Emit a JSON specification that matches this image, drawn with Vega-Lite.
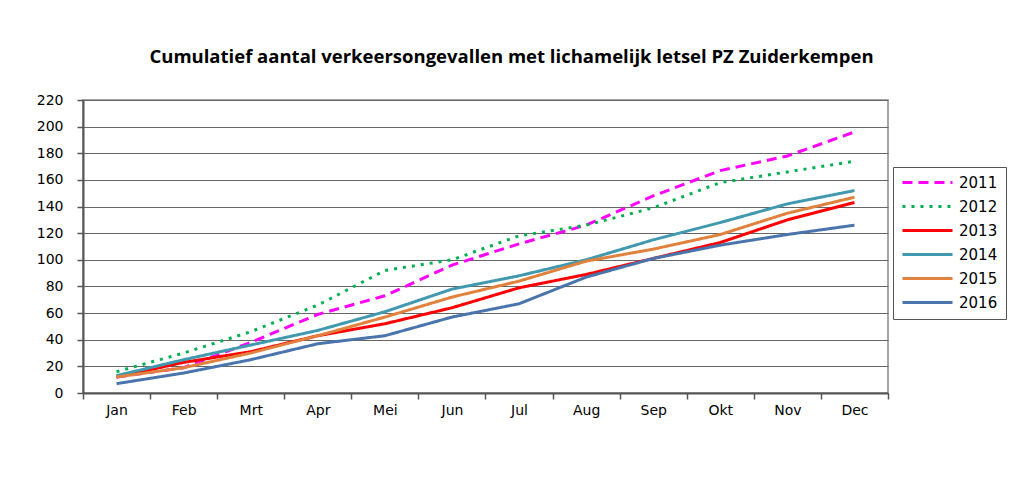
{
  "$schema": "https://vega.github.io/schema/vega-lite/v6.json",
  "width": 805,
  "height": 293,
  "autosize": {"type": "none"},
  "padding": {"left": 83, "top": 100, "right": 139, "bottom": 84},
  "background": "white",
  "title": {
    "text": "Cumulatief aantal verkeersongevallen met lichamelijk letsel PZ Zuiderkempen",
    "font": "Open Sans",
    "fontSize": 18.5,
    "fontWeight": "bold",
    "color": "#000000",
    "anchor": "middle",
    "dx": 26,
    "offset": 27
  },
  "config": {
    "view": {"stroke": "#8a8a8a", "strokeWidth": 1.5},
    "axis": {"labelFont": "DejaVu Sans", "labelFontSize": 14, "labelColor": "#000000", "titleFont": "DejaVu Sans"}
  },
  "data": {
    "values": [
      {"month": "Jan", "year": "2011", "value": 12},
      {"month": "Feb", "year": "2011", "value": 19},
      {"month": "Mrt", "year": "2011", "value": 38},
      {"month": "Apr", "year": "2011", "value": 59},
      {"month": "Mei", "year": "2011", "value": 73},
      {"month": "Jun", "year": "2011", "value": 96},
      {"month": "Jul", "year": "2011", "value": 112},
      {"month": "Aug", "year": "2011", "value": 126},
      {"month": "Sep", "year": "2011", "value": 148},
      {"month": "Okt", "year": "2011", "value": 167},
      {"month": "Nov", "year": "2011", "value": 178},
      {"month": "Dec", "year": "2011", "value": 196},
      {"month": "Jan", "year": "2012", "value": 16},
      {"month": "Feb", "year": "2012", "value": 30},
      {"month": "Mrt", "year": "2012", "value": 46},
      {"month": "Apr", "year": "2012", "value": 66},
      {"month": "Mei", "year": "2012", "value": 92},
      {"month": "Jun", "year": "2012", "value": 100},
      {"month": "Jul", "year": "2012", "value": 118},
      {"month": "Aug", "year": "2012", "value": 126},
      {"month": "Sep", "year": "2012", "value": 139},
      {"month": "Okt", "year": "2012", "value": 158},
      {"month": "Nov", "year": "2012", "value": 166},
      {"month": "Dec", "year": "2012", "value": 174},
      {"month": "Jan", "year": "2013", "value": 12},
      {"month": "Feb", "year": "2013", "value": 23},
      {"month": "Mrt", "year": "2013", "value": 31},
      {"month": "Apr", "year": "2013", "value": 43},
      {"month": "Mei", "year": "2013", "value": 52},
      {"month": "Jun", "year": "2013", "value": 64},
      {"month": "Jul", "year": "2013", "value": 79},
      {"month": "Aug", "year": "2013", "value": 89},
      {"month": "Sep", "year": "2013", "value": 101},
      {"month": "Okt", "year": "2013", "value": 113},
      {"month": "Nov", "year": "2013", "value": 130},
      {"month": "Dec", "year": "2013", "value": 143},
      {"month": "Jan", "year": "2014", "value": 13},
      {"month": "Feb", "year": "2014", "value": 25},
      {"month": "Mrt", "year": "2014", "value": 36},
      {"month": "Apr", "year": "2014", "value": 47},
      {"month": "Mei", "year": "2014", "value": 61},
      {"month": "Jun", "year": "2014", "value": 78},
      {"month": "Jul", "year": "2014", "value": 88},
      {"month": "Aug", "year": "2014", "value": 100},
      {"month": "Sep", "year": "2014", "value": 115},
      {"month": "Okt", "year": "2014", "value": 128},
      {"month": "Nov", "year": "2014", "value": 142},
      {"month": "Dec", "year": "2014", "value": 152},
      {"month": "Jan", "year": "2015", "value": 12},
      {"month": "Feb", "year": "2015", "value": 19},
      {"month": "Mrt", "year": "2015", "value": 30},
      {"month": "Apr", "year": "2015", "value": 43},
      {"month": "Mei", "year": "2015", "value": 57},
      {"month": "Jun", "year": "2015", "value": 72},
      {"month": "Jul", "year": "2015", "value": 84},
      {"month": "Aug", "year": "2015", "value": 99},
      {"month": "Sep", "year": "2015", "value": 108},
      {"month": "Okt", "year": "2015", "value": 119},
      {"month": "Nov", "year": "2015", "value": 135},
      {"month": "Dec", "year": "2015", "value": 147},
      {"month": "Jan", "year": "2016", "value": 7},
      {"month": "Feb", "year": "2016", "value": 15},
      {"month": "Mrt", "year": "2016", "value": 25},
      {"month": "Apr", "year": "2016", "value": 37},
      {"month": "Mei", "year": "2016", "value": 43},
      {"month": "Jun", "year": "2016", "value": 57},
      {"month": "Jul", "year": "2016", "value": 67},
      {"month": "Aug", "year": "2016", "value": 87},
      {"month": "Sep", "year": "2016", "value": 101},
      {"month": "Okt", "year": "2016", "value": 111},
      {"month": "Nov", "year": "2016", "value": 119},
      {"month": "Dec", "year": "2016", "value": 126}
    ]
  },
  "mark": {"type": "line", "strokeWidth": 3},
  "encoding": {
    "x": {
      "field": "month",
      "type": "ordinal",
      "sort": ["Jan", "Feb", "Mrt", "Apr", "Mei", "Jun", "Jul", "Aug", "Sep", "Okt", "Nov", "Dec"],
      "scale": {"type": "band", "paddingInner": 0, "paddingOuter": 0},
      "bandPosition": 0.5,
      "axis": {
        "title": null,
        "labelAngle": 0,
        "tickBand": "extent",
        "domainColor": "#555555",
        "domainWidth": 2,
        "tickColor": "#555555",
        "tickWidth": 1.5,
        "tickSize": 6,
        "labelPadding": 4,
        "grid": false
      }
    },
    "y": {
      "field": "value",
      "type": "quantitative",
      "scale": {"domain": [0, 220], "nice": false},
      "axis": {
        "title": null,
        "values": [0, 20, 40, 60, 80, 100, 120, 140, 160, 180, 200, 220],
        "grid": true,
        "gridColor": "#666666",
        "gridWidth": 1,
        "domainColor": "#555555",
        "domainWidth": 2,
        "tickColor": "#555555",
        "tickWidth": 1.5,
        "tickSize": 6,
        "labelPadding": 14
      }
    },
    "color": {
      "field": "year",
      "type": "nominal",
      "scale": {
        "domain": ["2011", "2012", "2013", "2014", "2015", "2016"],
        "range": ["#FF00FF", "#00B050", "#FF0000", "#4198AF", "#E0823D", "#4A74AC"]
      },
      "legend": {
        "title": null,
        "orient": "none",
        "legendX": 810,
        "legendY": 67,
        "strokeColor": "#555555",
        "padding": 8,
        "symbolType": "M-4.17,0H4.17",
        "symbolSize": 144,
        "symbolOffset": 19,
        "symbolStrokeWidth": 3,
        "labelFont": "DejaVu Sans",
        "labelFontSize": 15,
        "labelColor": "#000000",
        "rowPadding": 8,
        "labelOffset": 24
      }
    },
    "strokeDash": {
      "field": "year",
      "type": "nominal",
      "scale": {
        "domain": ["2011", "2012", "2013", "2014", "2015", "2016"],
        "range": [[10, 6], [3, 6], [1, 0], [1, 0], [1, 0], [1, 0]]
      },
      "legend": {
        "title": null,
        "orient": "none",
        "legendX": 810,
        "legendY": 67,
        "strokeColor": "#555555",
        "padding": 8,
        "symbolType": "M-4.17,0H4.17",
        "symbolSize": 144,
        "symbolOffset": 19,
        "symbolStrokeWidth": 3,
        "labelFont": "DejaVu Sans",
        "labelFontSize": 15,
        "labelColor": "#000000",
        "rowPadding": 8,
        "labelOffset": 24
      }
    }
  }
}
